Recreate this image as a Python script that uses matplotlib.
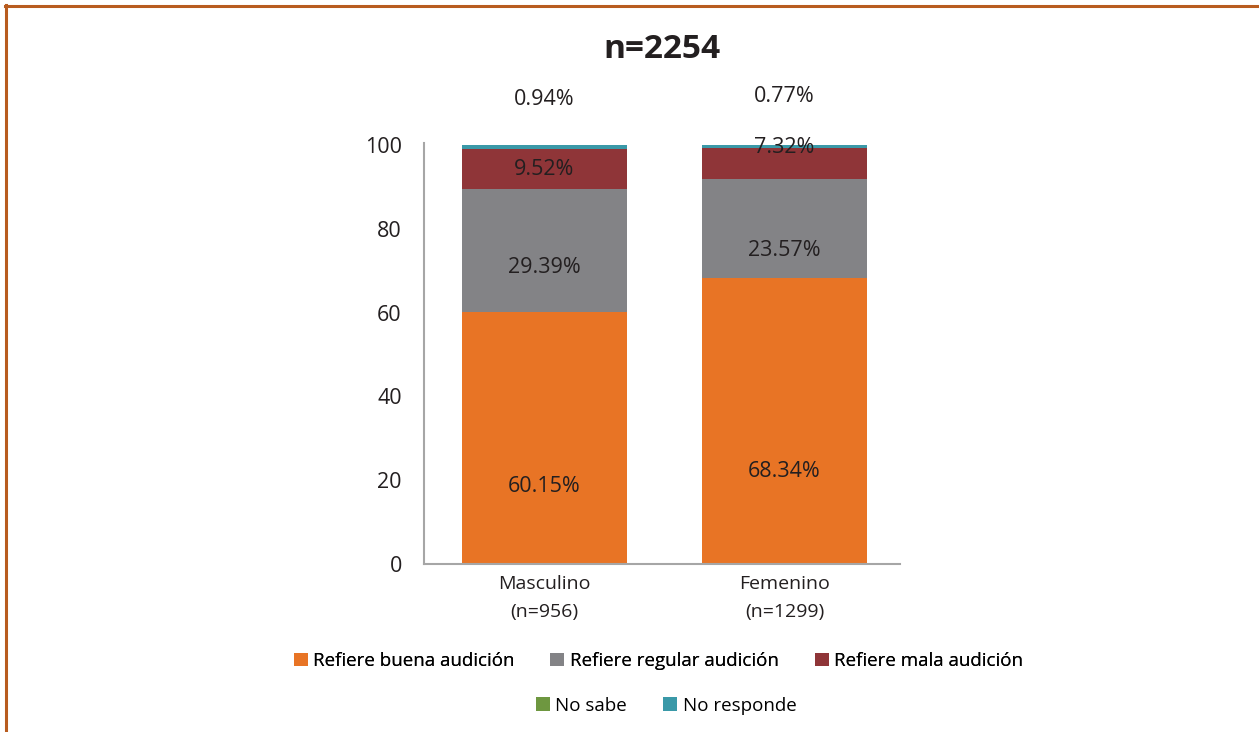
import matplotlib
matplotlib.use('Agg')
import matplotlib.pyplot as plt
from matplotlib.lines import Line2D
from matplotlib.patches import Patch
import numpy as np

# data
grupos = ['Masculino\n(n=956)', 'Femenino\n(n=1299)']
series = ['Refiere buena audición', 'Refiere regular audición',
          'Refiere mala audición', 'No sabe', 'No responde']
buena = [60.15, 68.34]
regular = [29.39, 23.57]
mala = [9.52, 7.32]
no_sabe = [0.0, 0.0]
no_responde = [0.94, 0.77]
colores = ['#E87425', '#838386', '#8F3538', '#6E9740', '#3A99A8']
titulo = 'n=2254'

# where the original labels sit (they were moved by hand in the source)
pos_buena = [18.4, 22.0]
pos_regular = [70.8, 74.9]
pos_mala = [94.3, 99.5]
pos_noresp = [111.0, 111.6]

plt.rcParams['font.family'] = ['Open Sans', 'DejaVu Sans']

fig = plt.figure(figsize=(12.59, 7.32), dpi=100)
ax = fig.add_axes([0.3368, 0.2295, 0.378, 0.575])

xs = np.arange(len(grupos))
valores = [buena, regular, mala, no_sabe, no_responde]
base = np.zeros(len(grupos))
for vals, col, nom in zip(valores, colores, series):
    ax.bar(xs, vals, width=0.6875, bottom=base, color=col, label=nom,
           edgecolor='none', zorder=2)
    base = base + np.array(vals)

for vals, pos in [(buena, pos_buena), (regular, pos_regular),
                  (mala, pos_mala), (no_responde, pos_noresp)]:
    for x, v, y in zip(xs, vals, pos):
        ax.text(x, y, f'{v:.2f}%', ha='center', va='center',
                fontsize=15.5, color='#231F20', clip_on=False)

ax.set_xlim(-0.5, 1.48)
ax.set_ylim(0, 100.5)
ax.set_yticks([0, 20, 40, 60, 80, 100])
ax.set_xticks(xs)
ax.set_xticklabels(grupos, fontsize=14, color='#231F20', linespacing=1.7)
ax.tick_params(axis='y', length=0, labelsize=15.5, pad=16, colors='#231F20')
ax.tick_params(axis='x', length=0, pad=8)
for s in ['top', 'right']:
    ax.spines[s].set_visible(False)
for s in ['left', 'bottom']:
    ax.spines[s].set_color('#A6A6A6')
    ax.spines[s].set_linewidth(1.5)

fig.text(0.526, 0.932, titulo, ha='center', va='center', fontsize=24,
         fontweight='bold', color='#231F20')

manijas = [Patch(facecolor=c, edgecolor='none') for c in colores]
leg1 = fig.legend(manijas[:3], series[:3], loc='center',
                  bbox_to_anchor=(0.523, 0.097), ncol=3, frameon=False,
                  fontsize=13.5, handlelength=0.75, handleheight=0.75,
                  handletextpad=0.3, columnspacing=1.9)
leg2 = fig.legend(manijas[3:], series[3:], loc='center',
                  bbox_to_anchor=(0.529, 0.036), ncol=2, frameon=False,
                  fontsize=13.5, handlelength=0.75, handleheight=0.75,
                  handletextpad=0.3, columnspacing=1.9)
fig.add_artist(leg1)

# orange frame, top and left only
borde = '#B85C1F'
fig.add_artist(Line2D([5 / 1259, 1], [1 - 6 / 732, 1 - 6 / 732],
                      color=borde, linewidth=2.2, transform=fig.transFigure))
fig.add_artist(Line2D([6 / 1259, 6 / 1259], [0, 1 - 5 / 732],
                      color=borde, linewidth=2.2, transform=fig.transFigure))

fig.savefig('out.png', dpi=100)
